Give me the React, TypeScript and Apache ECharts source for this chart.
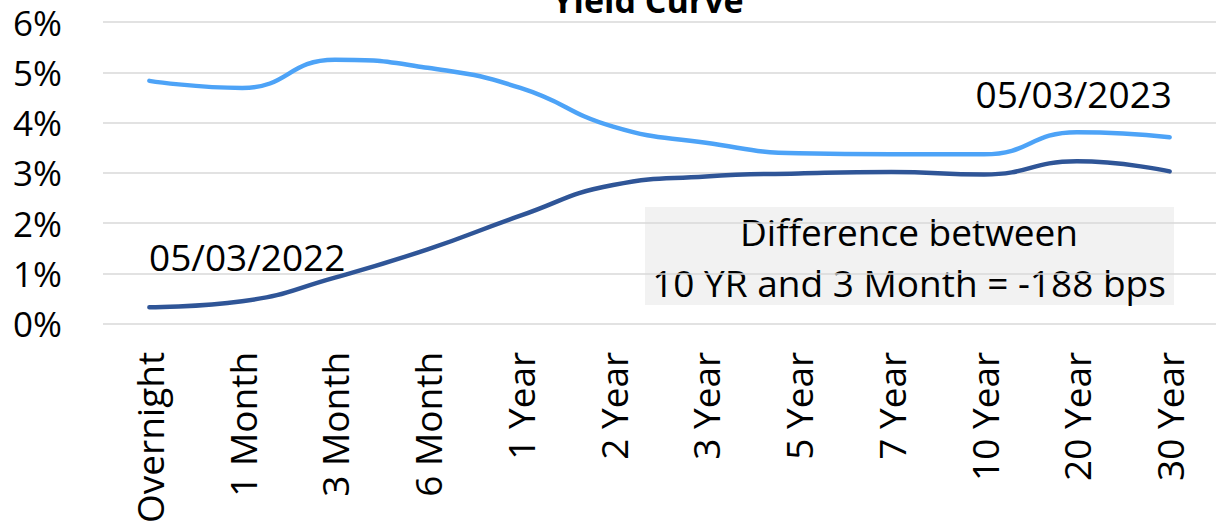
import React, { useEffect, useRef } from "react";
import * as echarts from "echarts";

// Treasury maturities on the x axis
const maturities = [
  "Overnight", "1 Month", "3 Month", "6 Month", "1 Year", "2 Year",
  "3 Year", "5 Year", "7 Year", "10 Year", "20 Year", "30 Year",
];

// Yields in percent
const yields2022 = [0.33, 0.45, 0.92, 1.48, 2.15, 2.76, 2.93, 2.99, 3.02, 2.97, 3.23, 3.03];
const yields2023 = [4.83, 4.69, 5.25, 5.09, 4.69, 3.92, 3.6, 3.39, 3.37, 3.37, 3.81, 3.71];

const yTicks = [0, 1, 2, 3, 4, 5, 6];

const label2022 = "05/03/2022";
const label2023 = "05/03/2023";

const FONT = "'Open Sans', sans-serif";

export default function App() {
  const ref = useRef<HTMLDivElement>(null);

  useEffect(() => {
    if (!ref.current) return;
    const chart = echarts.init(ref.current, undefined, { renderer: "svg" });

    const i3m = maturities.indexOf("3 Month");
    const i10y = maturities.indexOf("10 Year");
    const spreadBps = Math.round((yields2023[i10y] - yields2023[i3m]) * 100);

    chart.setOption({
      animation: false,
      backgroundColor: "#ffffff",
      textStyle: { fontFamily: FONT },
      grid: { left: 103, right: -8, top: 22, bottom: 200, containLabel: false },
      xAxis: {
        type: "category",
        data: maturities,
        boundaryGap: true,
        axisLine: { show: false },
        axisTick: { show: false },
        axisLabel: {
          interval: 0,
          rotate: 90,
          margin: 28,
          fontSize: 37,
          color: "#000",
          fontFamily: FONT,
        },
      },
      yAxis: {
        type: "value",
        min: yTicks[0],
        max: yTicks[yTicks.length - 1],
        interval: 1,
        axisLine: { show: false },
        axisTick: { show: false },
        splitLine: { lineStyle: { color: "#d9d9d9", width: 1.5 } },
        axisLabel: {
          formatter: (v: number) => `${v}%`,
          margin: 41,
          fontSize: 35,
          color: "#000",
          fontFamily: FONT,
        },
      },
      series: [
        {
          name: label2023,
          type: "line",
          data: yields2023,
          smooth: true,
          symbol: "none",
          lineStyle: { color: "#4da3f7", width: 4.5, cap: "round" },
          z: 3,
        },
        {
          name: label2022,
          type: "line",
          data: yields2022,
          smooth: true,
          symbol: "none",
          lineStyle: { color: "#2f5597", width: 4.5, cap: "round" },
          z: 3,
        },
      ],
      graphic: [
        {
          type: "text",
          x: 648,
          y: 0,
          style: {
            text: "Yield Curve",
            fontFamily: FONT,
            fontWeight: "bold",
            fontSize: 34,
            fill: "#000",
            align: "center",
            verticalAlign: "middle",
          },
        },
        {
          type: "text",
          x: 149,
          y: 256,
          style: {
            text: label2022,
            fontFamily: FONT,
            fontSize: 37,
            fill: "#000",
            align: "left",
            verticalAlign: "middle",
          },
          z: 10,
        },
        {
          type: "text",
          x: 1172,
          y: 93,
          style: {
            text: label2023,
            fontFamily: FONT,
            fontSize: 37,
            fill: "#000",
            align: "right",
            verticalAlign: "middle",
          },
          z: 10,
        },
        {
          type: "group",
          z: 10,
          children: [
            {
              type: "rect",
              shape: { x: 645, y: 207, width: 529, height: 98 },
              style: { fill: "#f2f2f2" },
            },
            {
              type: "text",
              x: 909,
              y: 231,
              style: {
                text: "Difference between",
                fontFamily: FONT,
                fontSize: 37,
                fill: "#000",
                align: "center",
                verticalAlign: "middle",
              },
            },
            {
              type: "text",
              x: 909,
              y: 282,
              style: {
                text: `10 YR and 3 Month = ${spreadBps} bps`,
                fontFamily: FONT,
                fontSize: 37,
                fill: "#000",
                align: "center",
                verticalAlign: "middle",
              },
            },
          ],
        },
      ],
    });

    return () => chart.dispose();
  }, []);

  return (
    <div
      ref={ref}
      style={{ position: "fixed", left: 0, top: 0, width: 1216, height: 526 }}
    />
  );
}
